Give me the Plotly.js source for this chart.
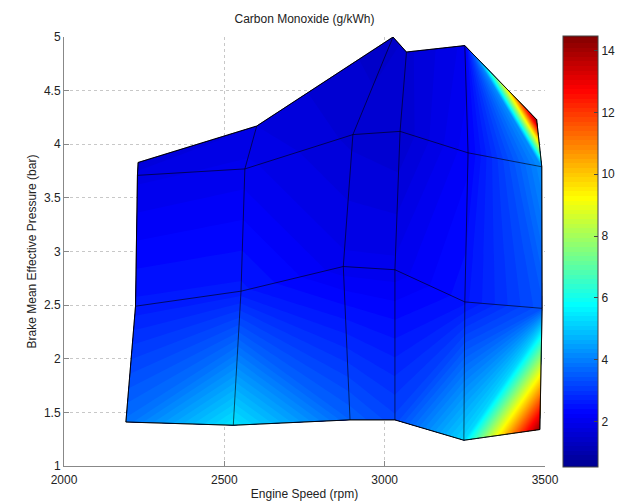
<!DOCTYPE html>
<html>
<head>
<meta charset="utf-8">
<script src="https://cdn.plot.ly/plotly-3.0.1.min.js"></script>
<style>html,body{margin:0;padding:0;background:#fff;}#chart{width:623px;height:502px;}</style>
</head>
<body>
<div id="chart"></div>
<script>
// grid columns (a) and rows (b)
var colIdx = [0, 1, 2, 3, 4, 5];
var rowIdx = [0, 1, 2, 3];
// Engine speed (rpm) at each grid vertex, rows bottom -> top
var speedRow1 = [2193, 2528, 2892, 3032, 3247, 3484];
var speedRow2 = [2223, 2552, 2871, 3032, 3250, 3491];
var speedRow3 = [2229, 2564, 2901, 3048, 3260, 3490];
var speedRow4 = [2231, 2601, 3026, 3068, 3250, 3474];
// BMEP (bar) at each grid vertex
var bmepRow1 = [1.41, 1.38, 1.43, 1.43, 1.24, 1.34];
var bmepRow2 = [2.49, 2.63, 2.86, 2.83, 2.53, 2.47];
var bmepRow3 = [3.71, 3.77, 4.09, 4.12, 3.92, 3.79];
var bmepRow4 = [3.83, 4.17, 5.00, 4.86, 4.92, 4.23];
// Carbon monoxide (g/kWh) at each grid vertex
var coRow1 = [3.8, 5.4, 3.6, 3.2, 5.2, 14.2];
var coRow2 = [2.6, 2.6, 2.0, 2.0, 2.5, 3.4];
var coRow3 = [1.9, 2.0, 1.6, 1.5, 2.2, 4.2];
var coRow4 = [1.6, 1.8, 1.4, 1.6, 2.0, 14.4];
var colorTicks = [2, 4, 6, 8, 10, 12, 14];

var X = [speedRow1, speedRow2, speedRow3, speedRow4];
var Y = [bmepRow1, bmepRow2, bmepRow3, bmepRow4];
var Z = [coRow1, coRow2, coRow3, coRow4];

var jet = [[0,'rgb(0,0,143)'],[0.125,'rgb(0,0,255)'],[0.375,'rgb(0,255,255)'],
           [0.625,'rgb(255,255,0)'],[0.875,'rgb(255,0,0)'],[1,'rgb(128,0,0)']];

var gridAxis = {
  showticklabels: 'none', showline: true, linecolor: '#000', linewidth: 0.8,
  gridcolor: '#000', gridwidth: 0.6, startline: true, endline: true,
  startlinecolor: '#000', endlinecolor: '#000', startlinewidth: 0.8, endlinewidth: 0.8,
  minorgridcount: 0, smoothing: 0, title: {text: ''}
};

var data = [
  {type: 'carpet', carpet: 'c', a: colIdx, b: rowIdx, x: X, y: Y,
   aaxis: gridAxis, baxis: gridAxis},
  {type: 'contourcarpet', carpet: 'c', a: colIdx, b: rowIdx, z: Z,
   autocontour: false, zmin: 0.58, zmax: 14.42, zauto: false,
   contours: {coloring: 'fill', start: 0.6, end: 14.4, size: 0.15, showlines: false},
   line: {width: 0, smoothing: 0},
   colorscale: jet,
   colorbar: {x: 1.037, xanchor: 'left', xpad: 0, y: 0.5, yanchor: 'middle', len: 1.005, ypad: 0,
     thickness: 35, outlinewidth: 1, outlinecolor: '#444',
     tickvals: colorTicks, ticks: 'inside', ticklen: 4, tickcolor: '#444',
     tickfont: {family: 'Liberation Sans, Arial', size: 12, color: '#222'}}
  }
];

var axFont = {family: 'Liberation Sans, Arial', size: 12, color: '#222'};
var layout = {
  width: 623, height: 502,
  margin: {l: 64, r: 78, t: 37, b: 36, autoexpand: false},
  paper_bgcolor: '#fff', plot_bgcolor: '#fff',
  showlegend: false,
  title: {text: 'Carbon Monoxide (g/kWh)', font: {family: 'Liberation Sans, Arial', size: 12, color: '#222'},
          x: 0.5, xref: 'paper', y: 0.962, yanchor: 'middle'},
  xaxis: {range: [2000, 3500], tickvals: [2000, 2500, 3000, 3500], ticks: 'inside', ticklen: 5,
          tickcolor: '#888', showline: true, linecolor: '#888', linewidth: 1, mirror: false,
          showgrid: true, gridcolor: '#c8c8c8', griddash: 'dot', gridwidth: 1, zeroline: false,
          ticklabelstandoff: 3,
          tickfont: axFont, title: {text: 'Engine Speed (rpm)', font: axFont, standoff: 3}},
  yaxis: {range: [1, 5], tickvals: [1, 1.5, 2, 2.5, 3, 3.5, 4, 4.5, 5], ticks: 'inside', ticklen: 5,
          tickcolor: '#888', showline: true, linecolor: '#888', linewidth: 1, mirror: false,
          showgrid: true, gridcolor: '#c8c8c8', griddash: 'dot', gridwidth: 1, zeroline: false,
          tickfont: axFont, title: {text: 'Brake Mean Effective Pressure (bar)', font: axFont, standoff: 4}}
};

Plotly.newPlot('chart', data, layout, {displayModeBar: false, staticPlot: true});
</script>
</body>
</html>
